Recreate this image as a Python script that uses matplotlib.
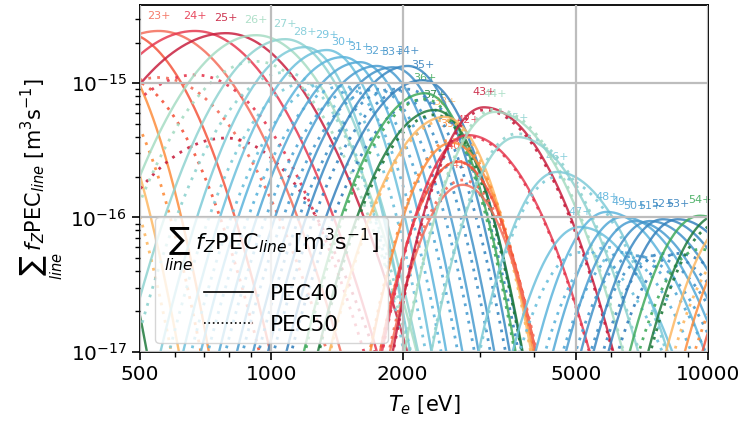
import numpy as np
import matplotlib
matplotlib.use("Agg")
import matplotlib.pyplot as plt
from matplotlib.lines import Line2D

# ---- data -------------------------------------------------------------------
charge_states = list(range(18, 60))
# peak electron temperature [eV] of each charge state curve
peak_te = [240, 290, 340, 395, 455, 552, 668, 787, 922, 1075, 1194, 1341, 1459, 1596,
           1745, 1898, 2056, 2224, 2248, 2370, 2497, 2593, 2675, 2747, 2820, 3070,
           3251, 3653, 4510, 5092, 5871, 6392, 6805, 7365, 7890, 8540, 9600, 10600,
           11600, 12700, 13800, 15000]
# peak of sum f_Z PEC (PEC40, solid)
peak_pec40 = [1.2e-15, 1.6e-15, 1.9e-15, 2.2e-15, 2.4e-15, 2.44e-15, 2.44e-15, 2.35e-15,
              2.27e-15, 2.12e-15, 1.85e-15, 1.76e-15, 1.56e-15, 1.43e-15, 1.34e-15,
              1.31e-15, 1.34e-15, 1.05e-15, 8.4e-16, 6.3e-16, 5.6e-16, 3.6e-16, 2.6e-16,
              1.75e-16, 4.1e-16, 6.6e-16, 6.1e-16, 3.97e-16, 2.18e-16, 8.5e-17, 1.1e-16,
              1.01e-16, 9.4e-17, 9.4e-17, 9.7e-17, 9.7e-17, 1.03e-16, 1.05e-16, 1.0e-16,
              9.0e-17, 8.0e-17, 7.0e-17]
# peak of sum f_Z PEC (PEC50, dotted)
peak_pec50 = [6.0e-16, 8.0e-16, 9.5e-16, 1.05e-15, 1.1e-15, 1.1e-15, 1.15e-15, 3.9e-16,
              1.45e-15, 1.2e-15, 1.0e-15, 1.0e-15, 9.5e-16, 9.2e-16, 9.0e-16, 9.0e-16,
              9.0e-16, 7.5e-16, 7.6e-16, 5.8e-16, 5.3e-16, 3.8e-16, 2.6e-16, 1.9e-16,
              4.0e-16, 6.3e-16, 6.4e-16, 4.2e-16, 2.0e-16, 5.5e-17, 6.0e-17, 5.5e-17,
              5.2e-17, 5.2e-17, 5.4e-17, 5.4e-17, 5.8e-17, 9.0e-17, 6.0e-17, 5.0e-17,
              4.5e-17, 4.0e-17]
# widths (decades of T_e per decade of fall), low side / high side
width_low = [0.2, 0.2, 0.2, 0.22, 0.28, 0.3, 0.3, 0.32, 0.26, 0.24, 0.22, 0.22, 0.22,
             0.22, 0.22, 0.22, 0.22, 0.22, 0.2, 0.2, 0.2, 0.15, 0.15, 0.15, 0.155,
             0.155, 0.155, 0.155, 0.155, 0.16, 0.16, 0.16, 0.16, 0.16, 0.16, 0.16,
             0.16, 0.16, 0.16, 0.16, 0.16, 0.16]
width_high = [0.17, 0.17, 0.17, 0.17, 0.22, 0.27, 0.27, 0.27, 0.24, 0.2, 0.16, 0.16,
              0.16, 0.16, 0.16, 0.16, 0.16, 0.16, 0.15, 0.15, 0.15, 0.15, 0.15, 0.15,
              0.22, 0.22, 0.22, 0.22, 0.22, 0.22, 0.22, 0.22, 0.22, 0.22, 0.22, 0.22,
              0.22, 0.22, 0.22, 0.22, 0.22, 0.22]
# colour cycle (18 states) starting at 23+
palette = ["#f46d5a", "#e63950", "#c8203f", "#a6dcc3", "#8fd3d0", "#7ecbd8",
           "#6cc0dc", "#5cb4dc", "#52a8d6", "#4a9dd0", "#4292c8", "#3a88c2",
           "#3580bc", "#41ab5d", "#1f7a3c", "#fdb863", "#fd8d3c", "#f4553c"]
xticks = [500, 1000, 2000, 5000, 10000]
yticks = [1e-17, 1e-16, 1e-15]
xlim = (500, 10000)
ylim = (1e-17, 3.8e-15)
legend_labels = ["PEC40", "PEC50"]

plt.rcParams["font.family"] = ["DejaVu Sans"]
plt.rcParams["mathtext.fontset"] = "dejavusans"

fig = plt.figure(figsize=(7.41, 4.25), dpi=100)
ax = fig.add_axes([0.189, 0.172, 0.766, 0.816])

te = np.logspace(np.log10(200), np.log10(20000), 800)
lt = np.log10(te)

for i, q in enumerate(charge_states):
    col = palette[(q - 23) % 18]
    l0 = np.log10(peak_te[i])
    w = np.where(lt < l0, width_low[i], width_high[i])
    shape = 10 ** (-((lt - l0) / w) ** 2)
    ax.plot(te, peak_pec40[i] * shape, color=col, lw=1.7, alpha=0.85, zorder=2)
    ax.plot(te, peak_pec50[i] * shape, color=col, lw=2.0, ls=(0, (1, 2.2)),
            alpha=0.9, zorder=2)
    if xlim[0] < peak_te[i] < xlim[1]:
        ax.text(peak_te[i], max(peak_pec40[i], peak_pec50[i]) * 1.3, f"{q}+",
                color=col, fontsize=8, ha="center", va="center", alpha=0.9,
                zorder=1)

ax.set_xscale("log")
ax.set_yscale("log")
ax.set_xlim(*xlim)
ax.set_ylim(*ylim)
ax.set_xticks(xticks)
ax.set_xticklabels([str(t) for t in xticks])
ax.set_yticks(yticks)
ax.xaxis.set_minor_formatter(matplotlib.ticker.NullFormatter())
ax.yaxis.set_minor_formatter(matplotlib.ticker.NullFormatter())
ax.tick_params(labelsize=14.5, width=1.2, length=6)
ax.tick_params(which="minor", width=1.0, length=3.5)
ax.grid(True, which="major", color="#bdbdbd", lw=1.6)
ax.set_axisbelow(False)
for s in ax.spines.values():
    s.set_linewidth(1.3)

ax.set_xlabel(r"$T_e$ [eV]", fontsize=15, labelpad=7)
ax.set_ylabel(r"$\sum_{line}\, f_Z\mathrm{PEC}_{line}$ [m$^3$s$^{-1}$]", fontsize=15)

handles = [Line2D([], [], color="k", lw=1.2, ls="-"),
           Line2D([], [], color="k", lw=1.2, ls=":")]
leg = ax.legend(handles, legend_labels, loc="lower left",
                bbox_to_anchor=(0.027, 0.025), borderaxespad=0, fontsize=15.5,
                title=r"$\sum_{line}\, f_Z\mathrm{PEC}_{line}$ [m$^3$s$^{-1}$]",
                title_fontsize=16, framealpha=0.8, handlelength=2.3)
leg.set_zorder(5)

fig.savefig("out.png", dpi=100)
